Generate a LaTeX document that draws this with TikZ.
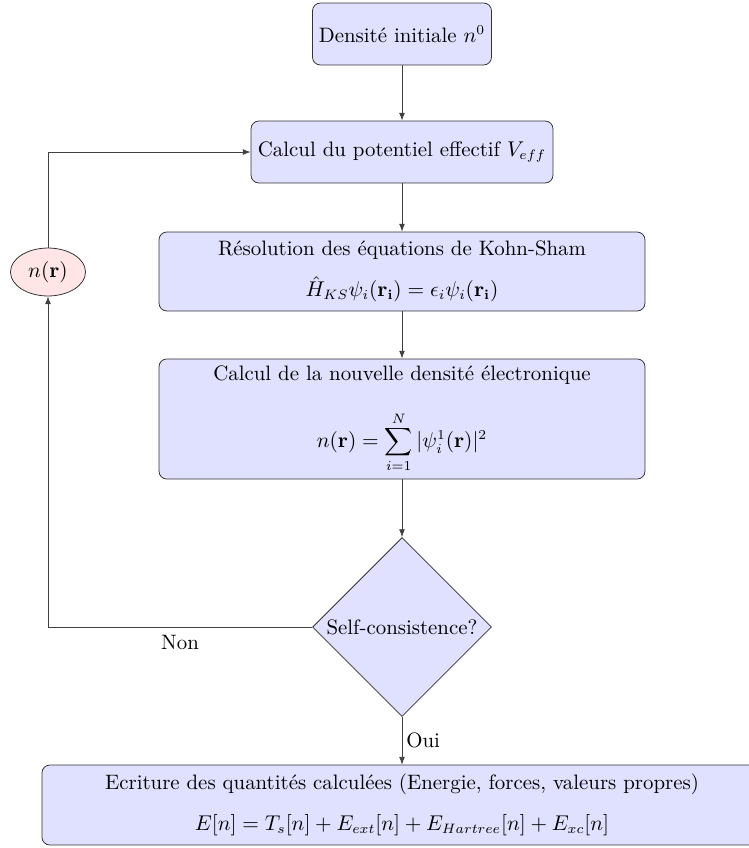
\documentclass[tikz,border=0pt]{standalone}
\usetikzlibrary{shapes.geometric,arrows.meta}
\begin{document}
\begin{tikzpicture}[x=0.513pt,y=-0.513pt,
  every node/.style={font=\fontsize{10.7pt}{13pt}\selectfont},
  box/.style={draw=black!80, fill=blue!12, rounded corners=4pt, align=center, inner sep=0pt},
  dec/.style={draw=black!80, fill=blue!12, diamond, aspect=1, inner sep=0pt, minimum width=91.8pt, minimum height=91.8pt},
  ell/.style={draw=black!80, fill=red!10, ellipse, inner sep=0pt, minimum width=38.5pt, minimum height=24.6pt},
  arr/.style={-{Latex[length=4pt,width=3pt]}, draw=black!75}]
\useasboundingbox (0,0) rectangle (749,848);
\node[box, minimum width=91.8pt, minimum height=31.8pt] (n0) at (402,34) {Densit\'e initiale $n^0$};
\node[box, minimum width=154.9pt, minimum height=31.8pt] (veff) at (402,152) {Calcul du potentiel effectif $V_{eff}$};
\node[box, minimum width=249.3pt, minimum height=40.5pt] (ks) at (402,271.5) {R\'esolution des \'equations de Kohn-Sham\\[8pt] $\hat{H}_{KS}\psi_i(\mathbf{r_i}) = \epsilon_i\psi_i(\mathbf{r_i})$};
\node[box, minimum width=249.3pt, minimum height=61.6pt] (dens) at (402,419) {Calcul de la nouvelle densit\'e \'electronique\\[13pt] $\displaystyle n(\mathbf{r}) = \sum_{i=1}^{N} |\psi_i^1(\mathbf{r})|^2$};
\node[dec] (sc) at (402,627) {Self-consistence?};
\node[box, minimum width=369.4pt, minimum height=41pt] (out) at (402,805) {Ecriture des quantit\'es calcul\'ees (Energie, forces, valeurs propres)\\[8pt] $E[n] = T_s[n] + E_{ext}[n] + E_{Hartree}[n] + E_{xc}[n]$};
\node[ell] (nr) at (48,272) {$n(\mathbf{r})$};
\draw[arr] (n0) -- (veff);
\draw[arr] (veff) -- (ks);
\draw[arr] (ks) -- (dens);
\draw[arr] (dens) -- (sc);
\draw[arr] (sc) -- node[right, inner sep=2pt] {Oui} (out);
\draw[arr] (sc.west) -| node[pos=0.25, below, inner sep=4pt] {Non} (nr.south);
\draw[arr] (nr.north) |- (veff.west);
\end{tikzpicture}
\end{document}
